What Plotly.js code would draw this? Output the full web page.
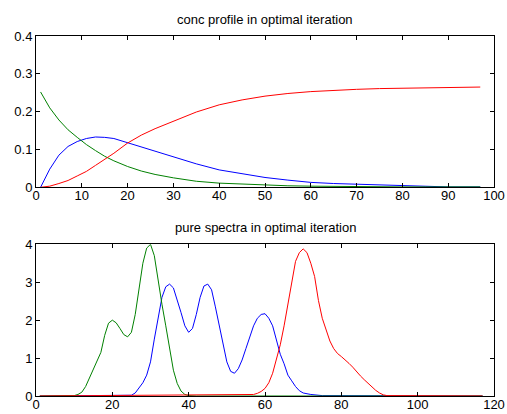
<!DOCTYPE html>
<html>
<head>
<meta charset="utf-8">
<script src="https://cdn.plot.ly/plotly-3.0.1.min.js"></script>
<style>html,body{margin:0;padding:0;background:#fff;}#chart{width:507px;height:414px;}</style>
</head>
<body>
<div id="chart"></div>
<script>
// ---- Top: concentration profiles ----
var concX = [1,3,5,7,9,11,13,15,17,20,23,26,30,35,40,45,50,55,60,65,70,75,80,85,90,97];
var concBlue = [0,0.048,0.085,0.108,0.121,0.129,0.133,0.132,0.129,0.118,0.106,0.094,0.081,0.062,0.046,0.035,0.026,0.019,0.013,0.010,0.008,0.005,0.003,0.002,0.001,0.001];
var concGreen = [0.252,0.21,0.178,0.152,0.132,0.113,0.097,0.082,0.070,0.055,0.043,0.034,0.025,0.016,0.011,0.008,0.005,0.004,0.003,0.002,0.002,0.001,0.001,0.001,0.001,0.001];
var concRed = [0,0.003,0.010,0.018,0.030,0.042,0.058,0.074,0.090,0.117,0.138,0.155,0.175,0.199,0.218,0.231,0.241,0.248,0.253,0.257,0.259,0.261,0.262,0.263,0.264,0.265];

// ---- Bottom: pure spectra ----
var specGreenX = [1,10,11,12,13,14,15,16,17,18,19,20,21,22,23,24,25,26,27,28,29,30,31,32,33,34,35,36,37,38,39,40,42,117];
var specGreen = [0,0.01,0.04,0.1,0.25,0.48,0.7,0.9,1.15,1.6,1.92,2.0,1.93,1.78,1.62,1.56,1.68,2.15,2.85,3.5,3.9,4.0,3.7,3.02,2.42,1.85,1.27,0.68,0.33,0.13,0.04,0.01,0,0];
var specBlueX = [1,25,26,27,28,29,30,31,32,33,34,35,36,37,38,39,40,41,42,43,44,45,46,47,48,49,50,51,52,53,54,55,56,57,58,59,60,61,62,63,64,65,66,67,68,69,70,72,75,117];
var specBlue = [0,0.02,0.08,0.2,0.35,0.55,0.9,1.5,2.05,2.6,2.88,2.95,2.85,2.55,2.2,1.85,1.68,1.78,2.15,2.6,2.9,2.95,2.8,2.35,1.85,1.3,0.9,0.65,0.6,0.72,0.95,1.25,1.55,1.85,2.05,2.15,2.17,2.05,1.85,1.5,1.1,0.85,0.55,0.4,0.25,0.14,0.08,0.04,0.01,0];
var specRedX = [1,56,57,58,59,60,61,62,63,64,65,66,67,68,69,70,71,72,73,74,75,76,77,78,79,80,81,82,83,84,85,86,87,88,89,90,91,92,117];
var specRed = [0,0.02,0.04,0.07,0.12,0.2,0.35,0.6,0.95,1.35,1.85,2.4,3.05,3.55,3.78,3.88,3.78,3.5,3.15,2.52,2.05,1.72,1.45,1.25,1.12,1.04,0.96,0.86,0.76,0.63,0.53,0.43,0.33,0.24,0.15,0.08,0.03,0.01,0];

var titles = ['conc profile in optimal iteration', 'pure spectra in optimal iteration'];

var BLUE = '#0000ff', GREEN = '#008000', RED = '#ff0000';
function ln(x, y, c, xa, ya) {
  return {x: x, y: y, type: 'scatter', mode: 'lines', line: {color: c, width: 1}, xaxis: xa, yaxis: ya, hoverinfo: 'skip', showlegend: false};
}
var data = [
  ln(concX, concBlue, BLUE, 'x', 'y'),
  ln(concX, concGreen, GREEN, 'x', 'y'),
  ln(concX, concRed, RED, 'x', 'y'),
  ln(specBlueX, specBlue, BLUE, 'x2', 'y2'),
  ln(specGreenX, specGreen, GREEN, 'x2', 'y2'),
  ln(specRedX, specRed, RED, 'x2', 'y2')
];

var FONT = 'Liberation Sans, Arial, sans-serif';
var tickFont = {family: FONT, size: 13, color: '#000'};
function ax(extra) {
  var a = {showgrid: false, zeroline: false, showline: true, linecolor: '#000', linewidth: 1,
    mirror: 'ticks', ticks: 'inside', ticklen: 4, tickcolor: '#000', tickwidth: 1,
    tickfont: tickFont, fixedrange: true};
  for (var k in extra) a[k] = extra[k];
  return a;
}
var topBottom = (396 - 187.3) / 360;
var botTop = (396 - 244.3) / 360;
var layout = {
  width: 507, height: 414,
  margin: {l: 36, r: 13, t: 36, b: 18},
  paper_bgcolor: '#fff', plot_bgcolor: '#fff',
  xaxis: ax({range: [0, 100], dtick: 10, tick0: 0, domain: [0, 1], anchor: 'y', ticklabelstandoff: -4}),
  yaxis: ax({range: [0, 0.4], dtick: 0.1, tick0: 0, domain: [topBottom, 1], anchor: 'x'}),
  xaxis2: ax({range: [0, 120], dtick: 20, tick0: 0, domain: [0, 1], anchor: 'y2', ticklabelstandoff: -4}),
  yaxis2: ax({range: [0, 4], dtick: 1, tick0: 0, domain: [0, botTop], anchor: 'x2'}),
  annotations: [
    {text: titles[0], xref: 'paper', yref: 'paper', x: 0.5, y: (396 - 20) / 360, xanchor: 'center', yanchor: 'middle', showarrow: false, font: {family: FONT, size: 13, color: '#000'}},
    {text: titles[1], xref: 'paper', yref: 'paper', x: 0.5, y: (396 - 227.7) / 360, xanchor: 'center', yanchor: 'middle', showarrow: false, font: {family: FONT, size: 13, color: '#000'}}
  ]
};
Plotly.newPlot('chart', data, layout, {staticPlot: true, displayModeBar: false});
</script>
</body>
</html>
